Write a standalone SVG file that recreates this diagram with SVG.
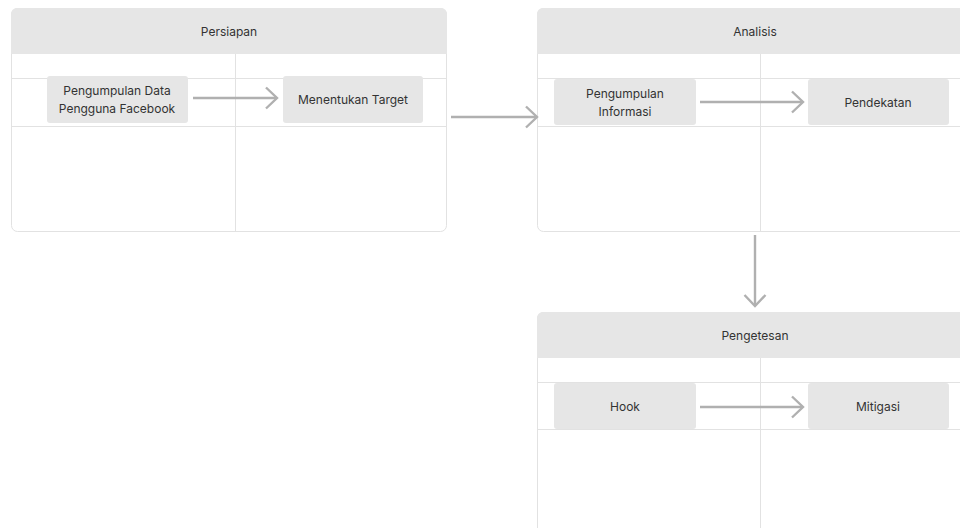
<svg xmlns="http://www.w3.org/2000/svg" width="960" height="528" viewBox="0 0 960 528">
<defs>
<style>
.frame{fill:#ffffff;stroke:#e2e2e2;stroke-width:1}
.hdr{fill:#e6e6e6}
.grid{stroke:#e2e2e2;stroke-width:1;fill:none}
.node{fill:#e6e6e6}
.t{font-family:Inter,"Liberation Sans",sans-serif;font-size:12px;fill:#333333;text-anchor:middle}
.conn{stroke:#b0b0b0;stroke-width:2.4;fill:none}
</style>
<marker id="ah" viewBox="0 0 14 24" refX="12.5" refY="12" markerWidth="14" markerHeight="24" markerUnits="userSpaceOnUse" orient="auto">
<path d="M1.5,1.5 L12.5,12 L1.5,22.5" fill="none" stroke="#b0b0b0" stroke-width="2.4"/>
</marker>
</defs>
<rect width="960" height="528" fill="#ffffff"/>

<g id="frame-persiapan">
<rect class="frame" x="11.5" y="8.5" width="435" height="223" rx="6"/>
<path class="hdr" d="M11,54 V14 a6,6 0 0 1 6,-6 H441 a6,6 0 0 1 6,6 V54 Z"/>
<line class="grid" x1="11" y1="78.5" x2="447" y2="78.5"/>
<line class="grid" x1="11" y1="126.5" x2="447" y2="126.5"/>
<line class="grid" x1="235.5" y1="54" x2="235.5" y2="232"/>
<text class="t" x="229" y="36">Persiapan</text>
</g>

<g id="frame-analisis">
<rect class="frame" x="537.5" y="8.5" width="435" height="223" rx="6"/>
<path class="hdr" d="M537,54 V14 a6,6 0 0 1 6,-6 H967 a6,6 0 0 1 6,6 V54 Z"/>
<line class="grid" x1="537" y1="78.5" x2="973" y2="78.5"/>
<line class="grid" x1="537" y1="126.5" x2="973" y2="126.5"/>
<line class="grid" x1="760.5" y1="54" x2="760.5" y2="232"/>
<text class="t" x="755" y="36">Analisis</text>
</g>

<g id="frame-pengetesan">
<rect class="frame" x="537.5" y="312.5" width="435" height="223" rx="6"/>
<path class="hdr" d="M537,358 V318 a6,6 0 0 1 6,-6 H967 a6,6 0 0 1 6,6 V358 Z"/>
<line class="grid" x1="537" y1="382.5" x2="973" y2="382.5"/>
<line class="grid" x1="537" y1="429.5" x2="973" y2="429.5"/>
<line class="grid" x1="760.5" y1="358" x2="760.5" y2="536"/>
<text class="t" x="755" y="340">Pengetesan</text>
</g>

<g id="node-pengumpulan-data">
<rect class="node" x="47" y="76" width="141" height="47" rx="3"/>
<text class="t" x="117" y="95">Pengumpulan Data</text>
<text class="t" x="117" y="113">Pengguna Facebook</text>
</g>
<g id="node-menentukan-target">
<rect class="node" x="283" y="76" width="140" height="47" rx="3"/>
<text class="t" x="353" y="104">Menentukan Target</text>
</g>
<g id="node-pengumpulan-informasi">
<rect class="node" x="554" y="79" width="142" height="46" rx="3"/>
<text class="t" x="625" y="98">Pengumpulan</text>
<text class="t" x="625" y="116">Informasi</text>
</g>
<g id="node-pendekatan">
<rect class="node" x="808" y="79" width="141" height="46" rx="3"/>
<text class="t" x="878" y="107">Pendekatan</text>
</g>
<g id="node-hook">
<rect class="node" x="554" y="383" width="142" height="46" rx="3"/>
<text class="t" x="625" y="411">Hook</text>
</g>
<g id="node-mitigasi">
<rect class="node" x="808" y="383" width="141" height="46" rx="3"/>
<text class="t" x="878" y="411">Mitigasi</text>
</g>

<g id="connectors">
<line class="conn" x1="193" y1="98" x2="277" y2="98" marker-end="url(#ah)"/>
<line class="conn" x1="451" y1="117" x2="537" y2="117" marker-end="url(#ah)"/>
<line class="conn" x1="700" y1="102" x2="803" y2="102" marker-end="url(#ah)"/>
<line class="conn" x1="755" y1="235" x2="755" y2="306" marker-end="url(#ah)"/>
<line class="conn" x1="700" y1="407" x2="803" y2="407" marker-end="url(#ah)"/>
</g>
</svg>
